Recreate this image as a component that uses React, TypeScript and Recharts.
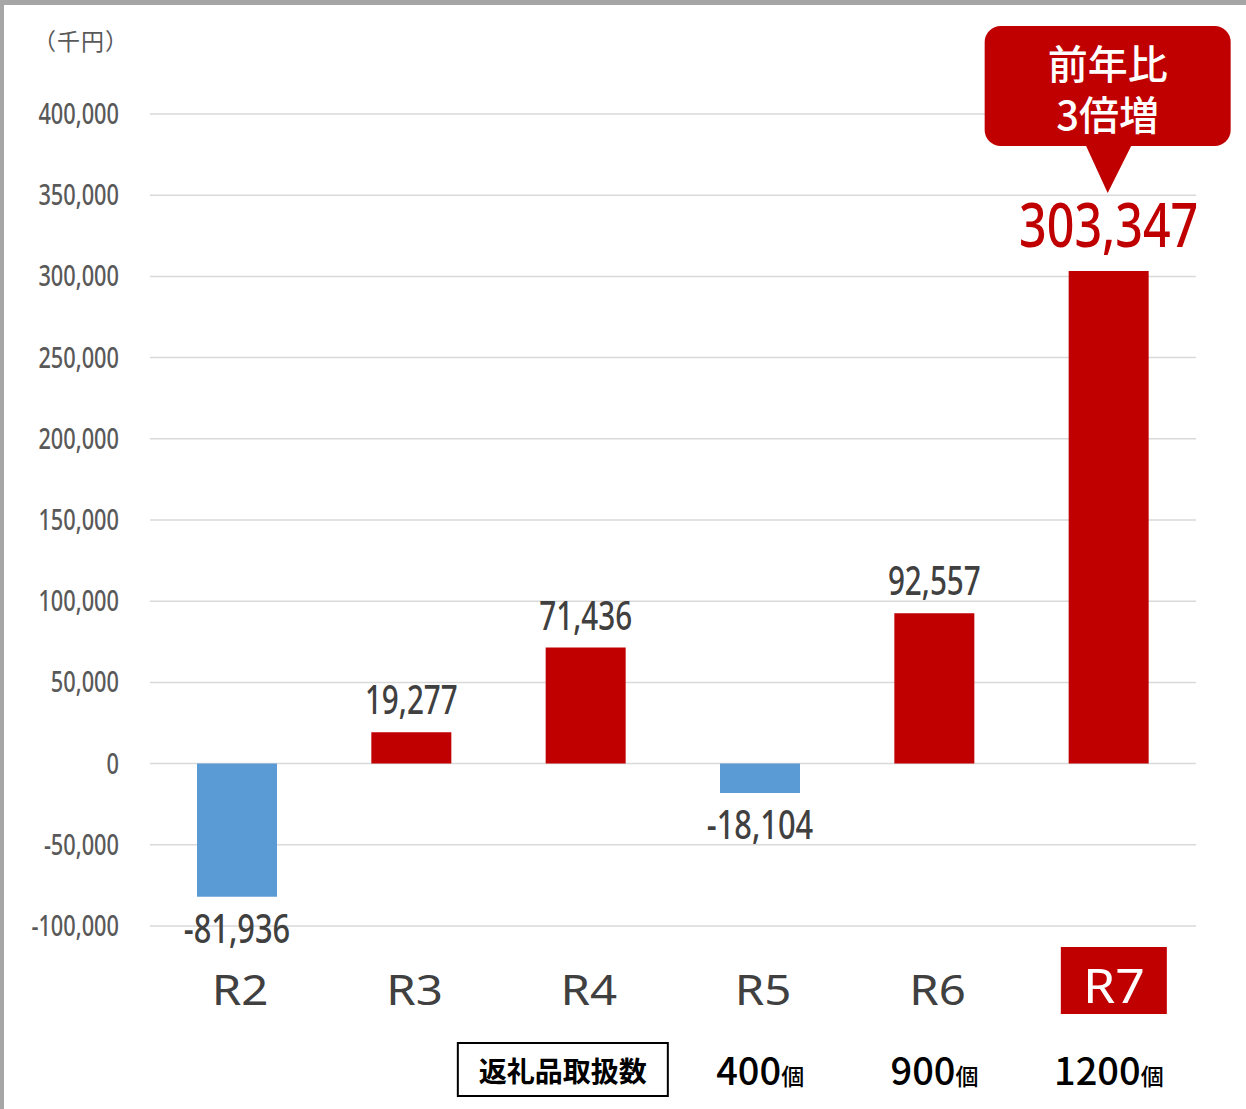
import React from 'react';
import { BarChart, Bar, XAxis, YAxis, CartesianGrid, Cell, LabelList } from 'recharts';

const categories = ['R2', 'R3', 'R4', 'R5', 'R6', 'R7'];
const values = [-81936, 19277, 71436, -18104, 92557, 303347];
const itemCounts = ['', '', '', '400', '900', '1200'];
const countHeader = '返礼品取扱数';
const countHeaderIndex = 2;
const countUnit = '個';
const yTicks = [-100000, -50000, 0, 50000, 100000, 150000, 200000, 250000, 300000, 350000, 400000];
const highlightIndex = 5;
const calloutLines = ['前年比', '3倍増'];
const unitLabel = '（千円）';

const RED = '#c00000';
const BLUE = '#5b9bd5';
const NUMF = "'Noto Sans', sans-serif";
const JP = "'Noto Sans CJK JP', 'Noto Sans', sans-serif";
const LATIN = "'Noto Sans', sans-serif";

const data = categories.map((c, i) => ({ name: c, value: values[i] }));

const fmt = (v: number) => v.toLocaleString('en-US');

const NarrowText = ({ x, y, sx, fontSize, fill, anchor = 'middle', family = NUMF, weight = 500, children }: any) => (
  <text
    transform={`translate(${x},${y}) scale(${sx},1)`}
    x={0}
    y={0}
    textAnchor={anchor}
    fill={fill}
    fontSize={fontSize}
    fontWeight={weight}
    fontFamily={family}
  >
    {children}
  </text>
);

const YTick = (props: any) => {
  const { x, y, payload } = props;
  return (
    <NarrowText x={x} y={y + 10} sx={0.75} fontSize={29} fill="#595959" anchor="end">
      {fmt(payload.value)}
    </NarrowText>
  );
};

const ValueLabel = (props: any) => {
  const { x, y, width, height, value, index } = props;
  const cx = x + width / 2;
  const top = Math.min(y, y + height);
  const bottom = Math.max(y, y + height);
  if (index === highlightIndex) {
    const tipY = top - 78;
    const boxBottom = tipY - 47;
    const boxTop = tipY - 167;
    return (
      <g>
        <rect x={cx - 124} y={boxTop} width={246} height={boxBottom - boxTop} rx={16} ry={16} fill={RED} />
        <polygon points={`${cx - 23},${boxBottom - 1} ${cx + 23},${boxBottom - 1} ${cx - 1},${tipY}`} fill={RED} />
        <text textAnchor="middle" fill="#fff" fontSize={40} fontWeight={500} fontFamily={JP}>
          <tspan x={cx - 1} y={boxTop + 53}>{calloutLines[0]}</tspan>
          <tspan x={cx - 1} y={boxTop + 104}>{calloutLines[1]}</tspan>
        </text>
        <NarrowText x={cx} y={top - 24} sx={0.78} fontSize={62} fill={RED}>
          {fmt(value)}
        </NarrowText>
      </g>
    );
  }
  if (value >= 0) {
    return (
      <NarrowText x={cx} y={top - 18} sx={0.76} fontSize={39} fill="#404040">
        {fmt(value)}
      </NarrowText>
    );
  }
  return (
    <NarrowText x={cx} y={bottom + 46} sx={0.79} fontSize={39} fill="#404040">
      {fmt(value)}
    </NarrowText>
  );
};

const XTick = (props: any) => {
  const { x, y, payload } = props;
  const index = props.index ?? payload.index;
  const isHi = index === highlightIndex;
  const count = itemCounts[index];
  return (
    <g>
      {isHi && <rect x={x - 48} y={y + 21} width={106} height={67} fill={RED} />}
      {isHi ? (
        <NarrowText x={x + 5} y={y + 77} sx={1.08} fontSize={48} fill="#fff" family={LATIN} weight={400}>
          {payload.value}
        </NarrowText>
      ) : (
        <NarrowText x={x + 3} y={y + 79} sx={1.13} fontSize={42} fill="#404040" family={LATIN} weight={400}>
          {payload.value}
        </NarrowText>
      )}
      {index === countHeaderIndex && (
        <g>
          <rect x={x - 128} y={y + 117} width={210} height={53} fill="#fff" stroke="#000" strokeWidth={2} />
          <text x={x - 23} y={y + 156} textAnchor="middle" fill="#000" fontSize={28} fontWeight={700} fontFamily={JP}>
            {countHeader}
          </text>
        </g>
      )}
      {count && (
        <text x={x} y={y + 159} textAnchor="middle" fill="#000" fontFamily={JP} fontWeight={500}>
          <tspan fontSize={38}>{count}</tspan>
          <tspan fontSize={23}>{countUnit}</tspan>
        </text>
      )}
    </g>
  );
};

export default function App() {
  return (
    <div style={{ position: 'absolute', left: 0, top: 0, width: 1246, height: 1109, background: '#fff' }}>
      <BarChart
        width={1246}
        height={1109}
        data={data}
        margin={{ top: 114, right: 50, bottom: 0, left: 0 }}
      >
        <CartesianGrid vertical={false} stroke="#d9d9d9" strokeWidth={1.5} />
        <YAxis
          type="number"
          domain={[-100000, 400000]}
          ticks={yTicks}
          width={150}
          axisLine={false}
          tickLine={false}
          tickSize={0}
          tickMargin={31}
          interval={0}
          tick={<YTick />}
        />
        <XAxis
          dataKey="name"
          height={183}
          axisLine={false}
          tickLine={false}
          tickSize={0}
          tickMargin={0}
          interval={0}
          tick={<XTick />}
        />
        <Bar dataKey="value" barSize={80} isAnimationActive={false}>
          {data.map((d, i) => (
            <Cell key={i} fill={d.value >= 0 ? RED : BLUE} />
          ))}
          <LabelList dataKey="value" content={<ValueLabel />} />
        </Bar>
      </BarChart>
      <div
        style={{
          position: 'absolute',
          left: 33,
          top: 24,
          fontFamily: JP,
          fontSize: 23,
          letterSpacing: 1,
          color: '#595959',
          lineHeight: '32px',
          whiteSpace: 'nowrap',
        }}
      >
        {unitLabel}
      </div>
      <div style={{ position: 'absolute', left: 0, top: 0, width: 1246, height: 5, background: '#a6a6a6' }} />
      <div style={{ position: 'absolute', left: 0, top: 0, width: 4, height: 1109, background: '#a6a6a6' }} />
    </div>
  );
}
